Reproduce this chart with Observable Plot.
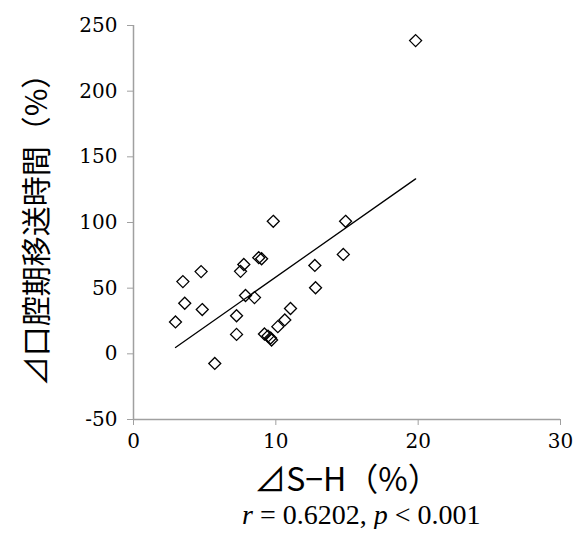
<!DOCTYPE html>
<html><head><meta charset="utf-8">
<script src="https://cdn.jsdelivr.net/npm/d3@7"></script>
<script src="https://cdn.jsdelivr.net/npm/@observablehq/plot@0.6"></script>
<style>
body{margin:0;background:#fff;}
#chart{position:relative;width:575px;}
.cap{font-family:"Liberation Serif",serif;font-size:28px;line-height:28px;margin-left:242px;margin-top:-4px;white-space:nowrap;color:#000;}
</style></head><body><div id="chart"></div><script>
const deltaSH = [2.95,3.47,3.6,4.75,4.83,5.71,7.24,7.24,7.52,7.75,7.87,8.5,8.8,9.0,9.2,9.45,9.63,9.7,9.82,10.14,10.63,11.03,12.74,12.79,14.74,14.9,19.82];
const deltaOral = [24.3,55,38.5,62.6,33.7,-7.3,29,14.8,62.8,68,44.4,42.8,73.2,72.4,15.1,13.5,12,10.5,100.9,20.7,25.8,34.5,67.3,50.3,75.7,100.9,238.5];
const xTicks = [0,10,20,30];
const yTicks = [-50,0,50,100,150,200,250];
const xLabel = ["⊿S−H（%）"];
const yLabel = ["⊿口腔期移送時間（%）"];
const data = deltaSH.map((x,i)=>({x, y: deltaOral[i]}));
const axisColor = "#a0a0a0";
const plot = Plot.plot({
  width:575, height:505,
  marginLeft:133, marginRight:15, marginTop:25, marginBottom:86,
  x:{domain:[0,30]}, y:{domain:[-50,250]},
  style:{fontFamily:"'DejaVu Serif', serif", fontSize:"20px", color:"#000", background:"#fff"},
  marks:[
    Plot.axisY({ticks:yTicks, tickSize:6, tickPadding:10, stroke:axisColor, label:null, fontSize:20, tickFormat:d=>String(d)}),
    Plot.axisX({ticks:xTicks, tickSize:6, tickPadding:8, stroke:axisColor, label:null, fontSize:20, tickFormat:d=>String(d)}),
    Plot.ruleX([0],{stroke:axisColor, strokeWidth:1.5}),
    Plot.ruleY([-50],{stroke:axisColor, strokeWidth:1.5}),
    Plot.linearRegressionY(data,{x:"x", y:"y", ci:0, stroke:"#000", strokeWidth:1.3}),
    Plot.dot(data,{x:"x", y:"y", symbol:"diamond2", r:5.4, stroke:"#000", fill:"none", strokeWidth:1.3}),
    Plot.text(yLabel,{frameAnchor:"left", textAnchor:"middle", lineAnchor:"middle", rotate:-90, dx:-96, fontFamily:"'Noto Sans CJK JP', sans-serif", fontSize:30, fill:"#000"}),
    Plot.text(xLabel,{frameAnchor:"bottom", textAnchor:"middle", lineAnchor:"middle", dy:61, fontFamily:"'Noto Sans CJK JP', sans-serif", fontSize:32, fill:"#000"})
  ]
});
document.getElementById("chart").appendChild(plot);
const cap = document.createElement("div");
cap.className = "cap";
cap.innerHTML = "<i>r</i> = 0.6202, <i>p</i> &lt; 0.001";
document.getElementById("chart").appendChild(cap);
</script></body></html>
